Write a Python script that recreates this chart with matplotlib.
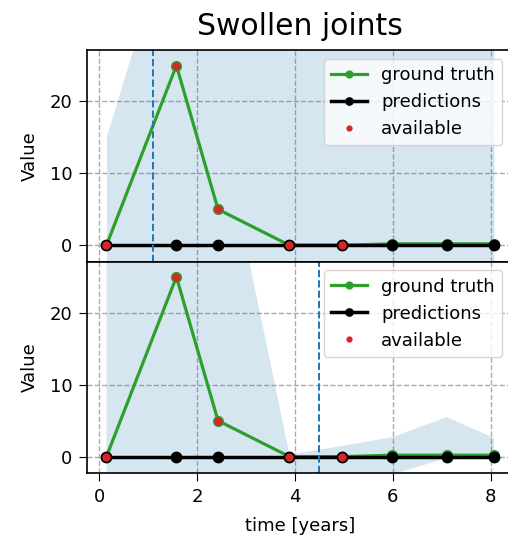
import numpy as np
import matplotlib
matplotlib.use("Agg")
import matplotlib.pyplot as plt

# visit times (years) and observed joint counts
time_years = [0.15, 1.58, 2.43, 3.89, 4.97, 5.99, 7.10, 8.07]
ground_truth = [0, 25, 5, 0, 0, 0.2, 0.2, 0.2]
available = [True, True, True, True, True, False, False, False]

# model predictions for the two forecast origins
predictions = [
    [0, 0, 0, 0, 0, 0, 0, 0],
    [0, 0, 0, 0, 0, 0, 0, 0],
]
lower_band = [
    [-15, -20, -15, -10, -8, -8, -8, -8],
    [-20, -20, -20, -6, -4, -2.5, -0.2, -0.1],
]
upper_band = [
    [15.2, 47, 40, 35, 33, 32, 30, 30],
    [40, 60, 48, 0.3, 1.5, 2.7, 5.5, 2.6],
]
cutoff_times = [1.1, 4.5]

title = "Swollen joints"
fs = 13

fig = plt.figure(figsize=(5.08, 5.42), dpi=100)
axes = fig.subplots(2, 1, sharex=True)
fig.subplots_adjust(left=0.171, right=1.011, top=0.907, bottom=0.127, hspace=0)

t = np.array(time_years)
gt = np.array(ground_truth)
mask = np.array(available)

for i, ax in enumerate(axes):
    ax.fill_between(t, lower_band[i], upper_band[i], color="#1f77b4", alpha=0.18, lw=0)
    ax.plot(t, gt, "o-", color="#2ca02c", lw=2.3, ms=7, label="ground truth")
    ax.plot(t, predictions[i], "o-", color="black", lw=2.5, ms=7.5, label="predictions")
    ax.plot(t[mask], gt[mask], "o", color="#d62728", ms=5, ls="none", label="available")
    ax.axvline(cutoff_times[i], color="#1f77b4", ls="--", lw=1.4)
    ax.grid(True, ls="--", color="#aaaaaa", lw=1)
    ax.set_axisbelow(True)
    ax.set_xlim(-0.25, 8.47)
    ax.set_ylim(-2.3, 27.1)
    ax.set_yticks([0, 10, 20])
    ax.set_ylabel("Value", fontsize=fs, labelpad=8)
    ax.tick_params(labelsize=fs, length=6, pad=4.5)
    ax.legend(loc="upper right", fontsize=fs, markerscale=0.7,
              bbox_to_anchor=(0.986, 0.985), borderaxespad=0.3)
    for sp in ax.spines.values():
        sp.set_linewidth(1.2)

axes[0].tick_params(bottom=False, labelbottom=False)
axes[0].set_title(title, fontsize=21.5, pad=11)
axes[1].set_xticks([0, 2, 4, 6, 8])
axes[1].set_xlabel("time [years]", fontsize=fs, labelpad=8)

fig.savefig("out.png", dpi=100)
